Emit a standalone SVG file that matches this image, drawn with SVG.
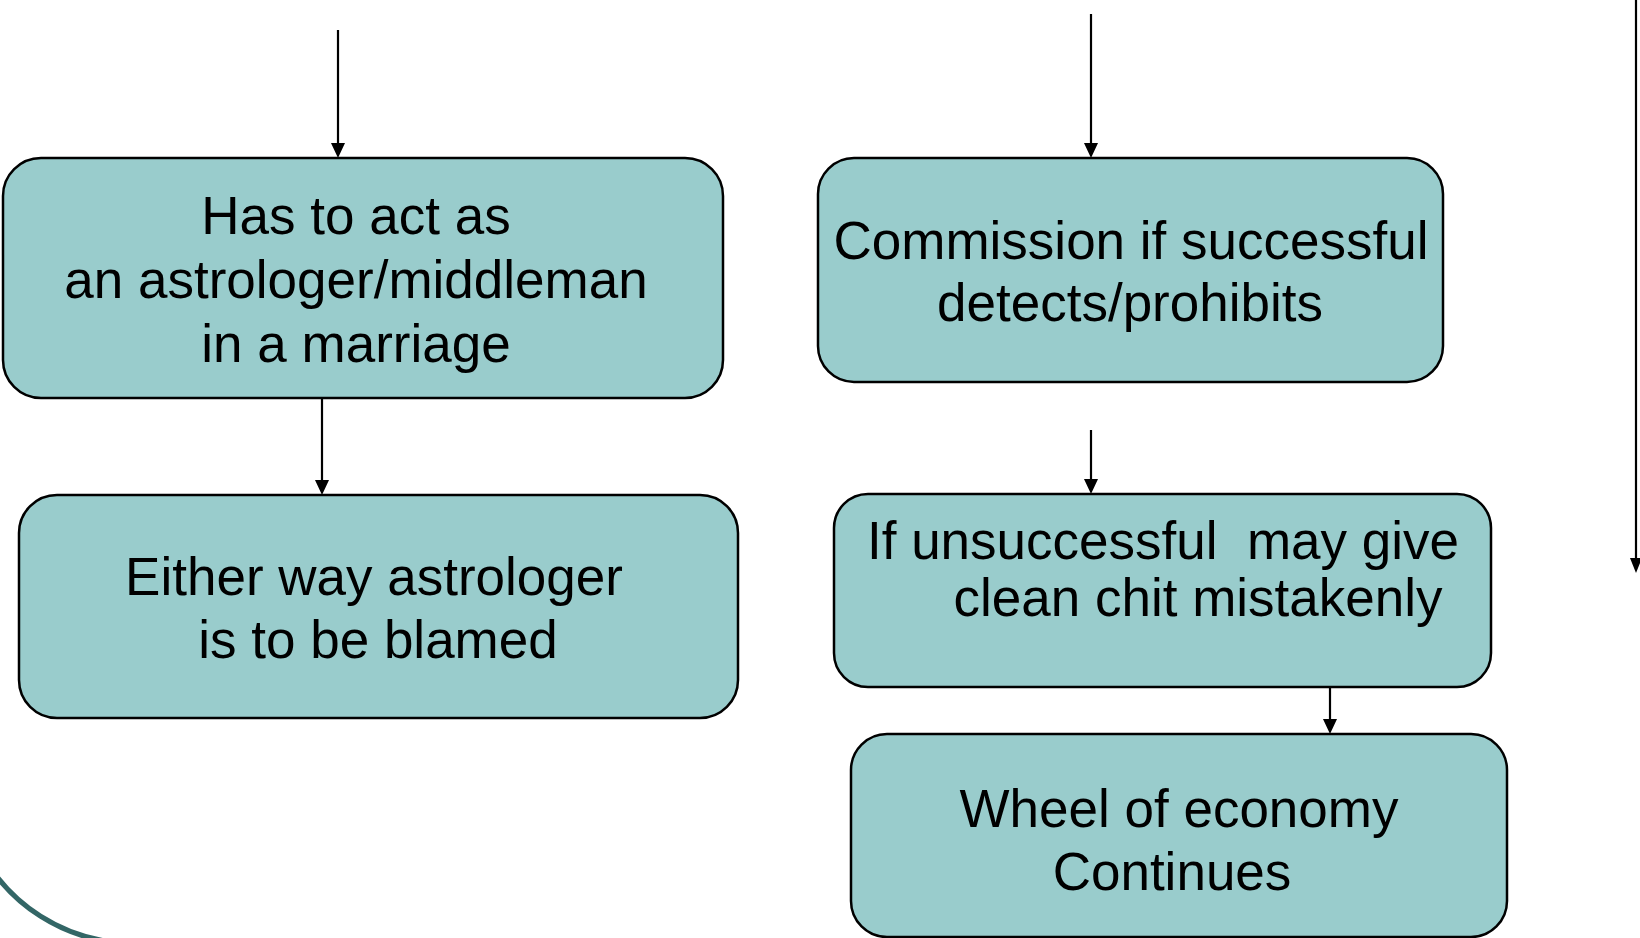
<svg xmlns="http://www.w3.org/2000/svg" width="1640" height="938" viewBox="0 0 1640 938">
  <defs>
    <style>
      .box { fill: #99CCCC; stroke: #000; stroke-width: 2.5; }
      .lbl { font-family: "Liberation Sans", Arial, sans-serif; font-size: 53px; fill: #000; text-anchor: middle; }
      .edge { stroke: #000; stroke-width: 2.2; fill: none; }
      .head { fill: #000; }
    </style>
  </defs>

  <rect width="1640" height="938" fill="#fff"/>

  <!-- decorative template arc, bottom-left corner -->
  <path d="M -20 850 A 172 172 0 0 0 126 943" fill="none" stroke="#336666" stroke-width="5"/>

  <g id="connectors">
    <line class="edge" x1="338" y1="30" x2="338" y2="144"/>
    <path class="head" d="M331,143 L345,143 L338,158 Z"/>
    <line class="edge" x1="322" y1="398" x2="322" y2="481"/>
    <path class="head" d="M315,480 L329,480 L322,495 Z"/>
    <line class="edge" x1="1091" y1="14" x2="1091" y2="144"/>
    <path class="head" d="M1084,143 L1098,143 L1091,158 Z"/>
    <line class="edge" x1="1091" y1="430" x2="1091" y2="480"/>
    <path class="head" d="M1084,479 L1098,479 L1091,494 Z"/>
    <line class="edge" x1="1330" y1="687" x2="1330" y2="720"/>
    <path class="head" d="M1323,719 L1337,719 L1330,734 Z"/>
    <line class="edge" x1="1636" y1="0" x2="1636" y2="559"/>
    <path class="head" d="M1630,558 L1642,558 L1636,573 Z"/>
  </g>

  <g id="node-astrologer">
    <rect class="box" x="3" y="158" width="720" height="240" rx="38" ry="38"/>
    <text class="lbl" x="356" y="234">Has to act as</text>
    <text class="lbl" x="356" y="298">an astrologer/middleman</text>
    <text class="lbl" x="356" y="362">in a marriage</text>
  </g>

  <g id="node-blamed">
    <rect class="box" x="19" y="495" width="719" height="223" rx="38" ry="38"/>
    <text class="lbl" x="374" y="595">Either way astrologer</text>
    <text class="lbl" x="378" y="658">is to be blamed</text>
  </g>

  <g id="node-commission">
    <rect class="box" x="818" y="158" width="625" height="224" rx="36" ry="36"/>
    <text class="lbl" x="1131" y="259">Commission if successful</text>
    <text class="lbl" x="1130" y="321">detects/prohibits</text>
  </g>

  <g id="node-unsuccessful">
    <rect class="box" x="834" y="494" width="657" height="193" rx="34" ry="34"/>
    <text class="lbl" x="1163" y="559" xml:space="preserve">If unsuccessful  may give</text>
    <text class="lbl" x="1198" y="616">clean chit mistakenly</text>
  </g>

  <g id="node-economy">
    <rect class="box" x="851" y="734" width="656" height="203" rx="36" ry="36"/>
    <text class="lbl" x="1179" y="827">Wheel of economy</text>
    <text class="lbl" x="1172" y="890">Continues</text>
  </g>
</svg>
